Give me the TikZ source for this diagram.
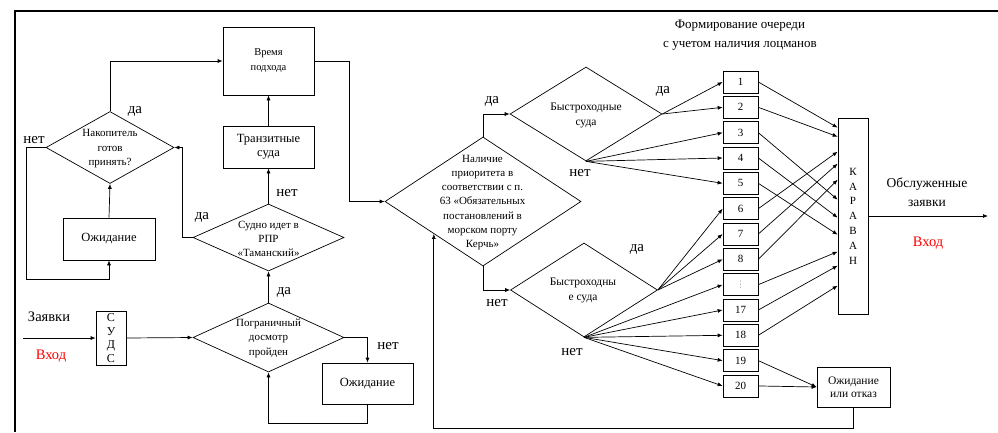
\documentclass[tikz,border=0pt]{standalone}
\usepackage{fontspec}
\setmainfont{Liberation Serif}
\newfontfamily\dotsfont{DejaVu Sans}
\usepackage{tikz}
\usetikzlibrary{arrows.meta,positioning,shapes.geometric,calc}
\definecolor{vhred}{HTML}{FF0000}
\definecolor{qgray}{HTML}{9A9A9A}

\begin{document}
\begin{tikzpicture}[x=1pt,y=-1pt,>={Latex[length=5pt,width=4pt]},line width=.7pt,
    box/.style={draw,rectangle,inner sep=0pt,align=center},
    dia/.style={draw,diamond,inner sep=0pt},
    txt/.style={align=center,inner sep=0pt},
    yn/.style={inner sep=0pt,font=\fontsize{15}{15}\selectfont}]
  \useasboundingbox (0,0) rectangle (998,432);
  \draw[line width=1.6pt] (15,432) -- (15,11) -- (998,11);
  % left part
  \node[box,minimum width=91pt,minimum height=68pt,font=\fontsize{10.5}{15}\selectfont] (vrem) at (268.5,61) {Время\\подхода};
  \node[box,minimum width=91pt,minimum height=42pt,font=\fontsize{12.5}{14}\selectfont] (tranz) at (268.5,147) {Транзитные\\суда};
  \node[dia,minimum width=128pt,minimum height=72pt] (nakop) at (110,147.5) {};
  \node[txt,font=\fontsize{11}{14.5}\selectfont] (nakopT) at (110,149) {Накопитель\\готов\\принять?};
  \node[box,minimum width=92pt,minimum height=42pt,font=\fontsize{12.5}{14}\selectfont] (wait1) at (109,239) {Ожидание};
  \node[dia,minimum width=151pt,minimum height=67pt] (sudno) at (268.5,237.5) {};
  \node[txt,font=\fontsize{11}{14}\selectfont] (sudnoT) at (268.5,239) {Судно идет в\\РПР\\«Таманский»};
  \node[dia,minimum width=151pt,minimum height=69pt] (pogr) at (268.5,337.5) {};
  \node[txt,font=\fontsize{11}{14.5}\selectfont] (pogrT) at (268.5,338) {Пограничный\\досмотр\\пройден};
  \node[box,minimum width=91pt,minimum height=41pt,font=\fontsize{12.5}{14}\selectfont] (wait2) at (367.5,383.5) {Ожидание};
  \node[box,minimum width=30pt,minimum height=54pt,font=\fontsize{12}{13.7}\selectfont] (suds) at (111,338) {С\\У\\Д\\С};
  \coordinate (in) at (23,338);
  \node[txt,font=\fontsize{14.5}{15}\selectfont] (zayav) at (49,317) {Заявки};
  \node[txt,text=vhred,font=\fontsize{14.5}{15}\selectfont] (vhod1) at (51,356) {Вход};

  \draw[->] (nakop.north) |- (vrem.west);
  \draw[->] (tranz.north) -- (vrem.south);
  \draw[->] (sudno.north) -- (tranz.south);
  \draw[->] (sudno.west) -- ++(-10,0) |- (nakop.east);
  \draw[->] (nakop.west) -- ++(-19,0) |- ($(wait1.south)+(0,19)$) -- (wait1.south);
  \draw[->] (wait1.north) -- (nakop.south);
  \draw[->] (pogr.north) -- (sudno.south);
  \draw[->] (pogr.east) -| (wait2.north);
  \draw[->] (wait2.south) -- ++(0,19) -| (pogr.south);
  \draw[->] (in) -- (suds.west);
  \draw[->] (suds.east) -- (pogr.west);

  % right part
  \node[dia,minimum width=196pt,minimum height=129pt] (prio) at (483,201.5) {};
  \node[txt,font=\fontsize{11}{14.2}\selectfont] (prioT) at (482.5,202.5) {Наличие\\приоритета в\\соответствии с п.\\63 «Обязательных\\постановлений в\\морском порту\\Керчь»};
  \node[dia,minimum width=152pt,minimum height=94pt] (bys1) at (586,114) {};
  \node[txt,font=\fontsize{11.5}{15}\selectfont] (bys1T) at (586,115.5) {Быстроходные\\суда};
  \node[dia,minimum width=147pt,minimum height=94pt] (bys2) at (584,290) {};
  \node[txt,font=\fontsize{11.5}{15}\selectfont] (bys2T) at (583,290.5) {Быстроходны\\е суда};
  \foreach \n [count=\k] in {1,2,3,4,5,6,7,8,{\textcolor{qgray}{\dotsfont\fontsize{9}{10}\selectfont ⋮}},17,18,19,20}
    \node[box,minimum width=35pt,minimum height=22pt,font=\fontsize{11}{12}\selectfont] (q\k) at (740.5,{82+25.33*(\k-1)}) {\n};
  \node[box,minimum width=30pt,minimum height=196pt,font=\fontsize{11}{14.8}\selectfont] (karavan) at (853,216) {К\\А\\Р\\А\\В\\А\\Н};
  \node[box,minimum width=73pt,minimum height=40pt,font=\fontsize{11.5}{13}\selectfont] (waitC) at (853.5,387) {Ожидание\\или отказ};
  \node[txt,font=\fontsize{13}{19}\selectfont] (title) at (740,35.5) {Формирование очереди\\с учетом наличия лоцманов};
  \node[txt,font=\fontsize{13.5}{19}\selectfont] (obsl) at (927,192) {Обслуженные\\заявки};
  \node[txt,text=vhred,font=\fontsize{14.5}{15}\selectfont] (vhod2) at (928,243) {Вход};
  \coordinate (out) at (988,216);

  \draw[->] (vrem.east) -- ++(35,0) |- (prio.west);
  \draw[->] (prio.north) |- (bys1.west);
  \draw[->] (prio.south) |- (bys2.west);
  \foreach \i in {1,2} \draw[->] (bys1.east) -- (q\i.west);
  \foreach \i in {3,4,5} \draw[->] (bys1.south) -- (q\i.west);
  \foreach \i in {6,7,8} \draw[->] (bys2.east) -- (q\i.west);
  \foreach \i in {9,...,13} \draw[->] (bys2.south) -- (q\i.west);
  \foreach \i/\d in {1/10,2/19,3/82,4/100,5/117,6/34,7/46,8/62,9/134,10/148,11/168}
    \draw[->] (q\i.east) -- ($(karavan.north west)+(0,\d)$);
  \draw[->] (q12.east) -- (waitC.west);
  \draw[->] (q13.east) -- (waitC.west);
  \draw[->] (waitC.south) -- ++(0,21) -| (prio.south west);
  \draw[->] (karavan.east) -- (out);

  % yes / no labels
  \node[yn] (y1) at (135,111) {да};
  \node[yn] (n1) at (34,140) {нет};
  \node[yn] (y2) at (202,217) {да};
  \node[yn] (n2) at (287,193) {нет};
  \node[yn] (y3) at (284,292) {да};
  \node[yn] (n3) at (388,346) {нет};
  \node[yn] (y4) at (492,101) {да};
  \node[yn] (n4) at (497,303) {нет};
  \node[yn] (y5) at (663,91) {да};
  \node[yn] (n5) at (580,173) {нет};
  \node[yn] (y6) at (637,249) {да};
  \node[yn] (n6) at (572,352) {нет};
\end{tikzpicture}
\end{document}
